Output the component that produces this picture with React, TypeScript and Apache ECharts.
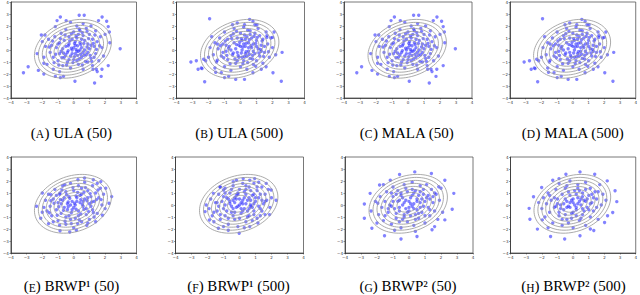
import { useEffect, useRef } from 'react';
import * as echarts from 'echarts';

// ---------- data ----------
const axisTicks = [-4, -3, -2, -1, 0, 1, 2, 3, 4];

// target density contours (Gaussian): mean, correlation, Mahalanobis radii of the drawn levels
const contourMean = [-0.05, 0.1];
const contourRho = 0.23;
const contourRadii = [2.45, 2.2, 1.95, 1.7, 1.45, 1.2, 0.95, 0.7];

const ulaSamples50: number[][] = [
  [-3.2, -1.9], [-2.9, -1.4], [-2.25, -1.7], [-2.33, -0.3], [-2.06, 1.25], [-1.83, 1.25], [-1.9, -1.1], [-1.9, -2.0],
  [-1.17, 1.95], [-1.06, 2.45], [-0.85, 2.75], [-0.48, 2.45], [0.35, 2.9], [0.67, 2.9], [1.58, 2.45], [1.81, 2.75],
  [2.1, 2.4], [2.2, 1.95], [2.27, 1.5], [2.96, 0.1], [2.2, -1.3], [1.8, -1.6], [1.75, -2.2], [1.33, -2.75],
  [0.08, -2.6], [-1.17, -2.2], [-0.85, -2.3], [-0.65, -2.2], [1.23, -1.6], [1.44, -1.6],
  [-1.6, 0.9], [-1.4, 0.4], [-1.5, -0.2], [-1.3, -0.6], [-1.2, 1.1], [-1.1, 0.2], [-1.0, -0.9], [-0.9, 0.6],
  [-0.9, -0.3], [-0.8, 1.4], [-0.7, 0.1], [-0.7, -1.3], [-0.6, 0.8], [-0.6, -0.6], [-0.5, 1.7], [-0.5, 0.3],
  [-0.4, -0.2], [-0.4, -1.0], [-0.3, 1.1], [-0.3, 0.5], [-0.2, -0.5], [-0.2, -1.5], [-0.1, 0.9], [-0.1, 0.0],
  [0.0, 1.5], [0.0, -0.8], [0.1, 0.4], [0.1, -0.3], [0.2, 2.0], [0.2, 1.0], [0.3, -0.1], [0.3, -1.2],
  [0.4, 0.6], [0.4, 1.6], [0.5, -0.6], [0.5, 0.2], [0.6, 1.2], [0.6, -1.6], [0.7, 0.0], [0.7, 0.8],
  [0.8, -0.4], [0.8, 1.8], [0.9, 0.5], [0.9, -1.0], [1.0, 1.3], [1.0, 0.1], [1.1, -0.7], [1.2, 0.9],
  [1.2, -1.3], [1.3, 0.3], [1.4, 1.6], [1.4, -0.3], [1.5, 0.7], [1.6, -0.9], [1.7, 1.1], [1.8, 0.2],
  [1.9, -0.5], [-1.8, 0.3], [-1.9, -0.6], [-2.0, 0.7], [-1.7, -1.2], [-1.3, -1.6], [-0.9, -1.8], [-0.2, 2.3],
  [0.6, 2.2], [1.1, 2.0], [1.5, -1.8], [2.0, 1.3], [2.3, 0.6], [0.0, 0.2], [0.2, -0.1], [-0.1, -0.3],
  [0.4, 0.0], [0.1, 0.7], [-0.5, -0.4], [0.6, -0.2], [1.1, 0.4], [-1.0, 0.5], [0.3, 1.3], [0.9, -0.2],
  [-0.3, -0.8], [0.5, 0.9], [-0.8, -0.1], [1.3, -0.6], [0.2, -0.9],
  [-0.15, 0.15], [0.25, 0.35], [0.45, -0.35], [-0.35, 0.35], [0.05, -0.55], [0.65, 0.55], [-0.65, -0.25], [0.85, 0.25],
  [-0.25, 0.75], [0.15, 1.15], [1.05, -0.45], [-1.15, -0.35], [0.35, -0.75], [-0.55, 1.25], [1.25, 0.55], [0.75, -0.95],
  [-0.85, 0.95], [0.55, 1.45], [-0.45, -1.25], [1.45, 0.05], [-1.35, 0.75], [0.95, 0.95], [0.05, 0.55], [-0.05, -1.05],
  [0.25, -0.45], [-0.75, -0.65], [0.65, -0.45], [1.15, -0.95], [-0.15, 1.35], [0.45, 0.45], [-1.25, -1.05], [1.65, 0.35],
  [0.85, 1.55], [-0.35, -0.05], [0.15, 0.05], [0.55, -1.25], [-0.95, -1.25], [1.35, 1.25], [-1.55, 0.25], [0.35, 1.75],
];

const ulaSamples500: number[][] = [
  [-1.93, 2.6], [-3.1, -1.0], [-2.76, -0.9], [-2.65, -1.6], [-2.45, -1.5], [-2.4, -1.55], [-2.24, -2.65], [-2.3, -0.77],
  [-2.18, -0.9], [-1.45, 0.5], [-0.2, 2.25], [0.25, 2.1], [0.57, 2.55], [0.78, 2.4], [1.03, 2.1], [1.65, 1.2],
  [2.0, 1.05], [2.6, -0.2], [2.03, -1.9], [2.55, -2.6], [0.25, -2.45], [-0.3, -2.45], [-0.74, -2.2], [-1.0, -2.3],
  [0.78, -1.9], [1.3, -1.6], [-1.55, -1.85],
  [-1.7, -0.4], [-1.6, 0.6], [-1.5, -1.0], [-1.4, 0.1], [-1.3, 1.0], [-1.2, -0.5], [-1.1, 0.5], [-1.0, -1.4],
  [-1.0, 1.5], [-0.9, -0.1], [-0.8, 0.9], [-0.8, -0.8], [-0.7, 0.3], [-0.6, -1.7], [-0.6, 1.2], [-0.5, -0.4],
  [-0.4, 0.6], [-0.4, 1.8], [-0.3, -1.1], [-0.3, 0.1], [-0.2, 1.0], [-0.1, -0.6], [-0.1, 0.4], [0.0, 1.4],
  [0.0, -1.4], [0.1, 0.0], [0.1, 0.8], [0.2, -0.9], [0.2, 1.9], [0.3, 0.3], [0.3, -0.3], [0.4, 1.1],
  [0.4, -1.6], [0.5, 0.6], [0.5, -0.1], [0.6, 1.6], [0.6, -0.7], [0.7, 0.2], [0.7, 1.0], [0.8, -1.2],
  [0.8, 0.5], [0.9, 1.4], [0.9, -0.3], [1.0, 0.8], [1.0, -0.9], [1.1, 0.1], [1.1, 1.8], [1.2, -0.5],
  [1.2, 1.2], [1.3, 0.4], [1.4, -1.1], [1.4, 0.9], [1.5, -0.2], [1.6, 1.5], [1.7, 0.5], [1.8, -0.6],
  [1.9, 1.0], [2.0, 0.2], [-1.9, 0.2], [-2.0, -0.6], [-1.8, 1.1], [-1.6, -1.5], [-1.2, -1.9], [-0.5, 2.1],
  [0.9, 2.1], [1.6, -1.4], [2.1, 1.5], [2.2, -0.4], [0.0, 0.3], [0.2, 0.5], [-0.2, -0.2], [0.5, 0.2],
  [0.3, 0.9], [-0.6, 0.0], [0.8, -0.1], [1.3, -0.1], [-1.1, -0.2], [0.6, 1.3], [1.0, 0.3], [-0.2, -0.9],
  [0.4, -0.5], [-0.9, 0.4], [1.5, 0.3], [0.1, -0.6],
  [0.15, 0.25], [-0.25, 0.45], [0.35, -0.15], [0.55, 0.85], [-0.45, -0.25], [0.75, -0.45], [-0.15, -0.45], [0.95, 0.55],
  [0.25, 1.25], [-0.75, 0.15], [1.15, -0.25], [-0.55, 0.95], [0.45, -1.05], [1.35, 0.75], [-1.05, -0.65], [0.05, 0.95],
  [0.65, 0.35], [-0.35, -0.75], [0.85, 1.15], [-0.95, 0.75], [1.45, -0.55], [0.15, -1.15], [-0.65, -1.15], [0.55, -0.35],
  [1.05, 1.05], [-0.25, 1.55], [0.35, 0.55], [-1.25, 0.35], [0.75, -0.75], [0.05, -0.25], [-0.85, -0.45], [1.25, 0.05],
  [0.45, 1.65], [-0.05, 0.65], [1.65, 1.05], [-1.45, -0.85], [0.95, -1.35], [-0.45, 1.35], [0.25, -0.55], [1.75, -0.15],
];

const malaSamples50: number[][] = ulaSamples50.map((p) => [p[0], p[1]]);
const malaSamples500: number[][] = ulaSamples500.map((p) => [p[0], p[1]]);

const brwp1Samples50: number[][] = [
  [-2.37, -0.1], [-2.0, 1.0], [-2.1, -1.1], [-1.6, -1.55], [-0.87, -2.15], [-0.25, -2.25], [0.17, -2.1], [0.83, -1.7],
  [1.4, -1.4], [1.83, -0.85], [2.25, 0.15], [2.42, 0.7], [2.04, 1.4], [1.73, 1.95], [1.25, 2.1], [0.69, 2.25],
  [0.27, 2.1], [-0.56, 1.7], [-0.87, 1.0], [-1.44, 0.85],
  [-1.8, 0.4], [-1.7, -0.5], [-1.6, 0.9], [-1.5, -0.1], [-1.4, -0.9], [-1.3, 0.5], [-1.2, 1.3], [-1.1, -0.4],
  [-1.0, 0.2], [-1.0, -1.3], [-0.9, 0.9], [-0.8, -0.7], [-0.7, 0.4], [-0.7, 1.6], [-0.6, -0.2], [-0.5, -1.6],
  [-0.5, 1.1], [-0.4, 0.1], [-0.3, -0.9], [-0.3, 0.7], [-0.2, 1.8], [-0.1, -0.4], [-0.1, 0.3], [0.0, -1.9],
  [0.0, 1.2], [0.1, 0.0], [0.1, -1.1], [0.2, 0.6], [0.3, 1.6], [0.3, -0.5], [0.4, 0.2], [0.5, -1.4],
  [0.5, 0.9], [0.6, -0.1], [0.7, 1.9], [0.7, 0.5], [0.8, -0.8], [0.9, 1.2], [1.0, 0.1], [1.0, -1.2],
  [1.1, 0.7], [1.2, 1.6], [1.2, -0.4], [1.3, 0.3], [1.4, 1.0], [1.5, -0.7], [1.6, 0.6], [1.7, 1.4],
  [1.8, 0.0], [1.9, 0.9], [2.0, -0.3], [-2.0, -0.6], [-1.9, -0.2], [-1.3, -1.4], [-0.9, -1.7], [0.9, -1.5],
  [1.5, 1.8], [-0.2, 0.0], [0.2, 0.3], [0.0, -0.2], [-0.4, -0.4], [0.4, 0.8], [0.6, 0.3], [-0.6, 0.6],
  [0.8, -0.3], [-0.2, -1.2], [0.3, -0.9], [1.1, -0.1], [-1.1, 0.8], [0.5, 1.4], [-0.8, 0.1], [1.3, -1.0],
  [-0.5, -1.0], [0.9, 0.6],
  [0.05, 0.15], [-0.35, 0.25], [0.45, 0.45], [-0.15, -0.65], [0.65, -0.35], [-0.65, -0.45], [0.25, 1.05], [0.85, 0.35],
  [-0.45, 0.85], [1.05, 0.95], [-0.95, -0.15], [0.35, -1.25], [-0.25, 0.55], [1.25, -0.65], [-1.25, 0.15], [0.15, -0.35],
  [0.75, 1.45], [-0.75, 1.25], [1.45, 0.45], [-0.55, -1.35], [0.55, 0.05], [-1.05, -0.85], [0.95, -0.55], [-0.05, 1.45],
  [1.55, 1.25], [-1.55, -0.65], [0.45, -0.75], [-0.35, -0.15], [1.15, 0.25], [0.65, 1.05], [-0.85, 0.45], [0.15, 0.75],
  [-1.45, 0.35], [1.75, 0.45], [0.25, -1.55], [-0.15, -1.55],
];

const brwp1Samples500: number[][] = [
  [-2.15, -0.55], [-2.08, 0.0], [-1.88, -1.25], [-1.32, -1.93], [-0.7, -2.1], [-0.02, -2.35], [0.64, -1.8], [1.15, -1.5],
  [1.88, -0.8], [2.29, 0.4], [1.98, 1.25], [1.67, 1.8], [0.64, 2.07], [0.23, 2.2], [-0.39, 1.93], [-1.0, 1.25],
  [-1.63, 0.97], [-1.22, 1.5], [-0.19, 2.07], [0.95, 2.2],
  [-1.9, -0.3], [-1.8, 0.5], [-1.7, -0.9], [-1.5, 0.2], [-1.4, -0.5], [-1.3, 0.9], [-1.2, -1.2], [-1.1, 0.3],
  [-1.0, -0.3], [-0.9, 1.4], [-0.9, -0.9], [-0.8, 0.6], [-0.7, -1.6], [-0.6, 0.1], [-0.6, 1.0], [-0.5, -0.6],
  [-0.4, 1.6], [-0.4, 0.4], [-0.3, -1.2], [-0.2, 0.8], [-0.2, -0.2], [-0.1, -1.8], [0.0, 0.5], [0.0, 1.3],
  [0.1, -0.7], [0.2, 0.1], [0.2, 1.8], [0.3, -0.3], [0.4, 0.9], [0.4, -1.4], [0.5, 0.4], [0.6, 1.5],
  [0.6, -0.9], [0.7, -0.1], [0.8, 0.8], [0.9, 1.8], [0.9, -0.5], [1.0, 0.3], [1.1, -1.1], [1.1, 1.2],
  [1.2, 0.6], [1.3, -0.3], [1.4, 1.5], [1.5, 0.1], [1.6, -0.8], [1.6, 0.9], [1.7, 0.4], [1.8, 1.3],
  [1.9, -0.2], [2.0, 0.6], [-1.6, -1.4], [-1.0, -1.8], [0.3, -1.9], [1.2, 1.9], [-1.2, 1.5], [0.0, 0.0],
  [-0.3, 0.2], [0.3, 0.6], [0.1, -0.3], [-0.5, -0.1], [0.7, 0.4], [-0.7, 0.5], [0.5, -0.5], [0.9, 0.1],
  [-0.1, 1.0], [-0.9, 0.0], [1.3, 0.9], [0.4, 1.3], [-0.4, -0.9], [0.8, -1.3], [-1.3, -0.1], [1.4, -0.5],
  [0.1, 0.2], [-0.2, 0.5], [0.4, 0.1], [-0.4, -0.3], [0.6, 0.6], [0.2, -0.5], [-0.6, 0.3], [0.8, -0.2],
  [-0.1, 0.9], [1.0, 0.6], [-0.8, -0.5], [0.3, 1.1], [1.2, -0.1], [-1.0, 0.7], [0.5, -1.0], [-0.3, -0.6],
  [0.7, 1.2], [-0.5, 1.3], [1.4, 0.4], [-1.2, -0.8], [0.0, -1.1], [0.9, -0.8], [-0.7, -1.1], [1.1, 1.5],
  [-1.4, 0.2], [0.2, 0.4], [-0.1, -0.1], [0.6, -0.3], [1.6, 0.3], [-0.9, 1.0], [0.4, 1.6], [1.3, -0.9],
  [-1.6, -0.6], [0.7, 0.0], [-0.3, 0.6], [0.9, 0.9],
];

const brwp2Samples50: number[][] = [
  [0.36, 2.76], [-0.59, 2.54], [1.4, 2.62], [2.24, 2.07], [2.8, 0.97], [2.7, -0.36], [2.24, -1.24], [1.44, -2.07],
  [0.5, -2.62], [-0.5, -2.84], [-1.53, -2.57], [-2.32, -1.93], [-2.79, -1.1], [-2.79, 0.08], [-2.43, 0.97], [-1.84, 1.66],
  [-1.17, 2.07], [-1.95, 0.14], [-2.37, -0.5], [1.86, 1.52],
  [-1.9, -0.8], [-1.8, 0.7], [-1.7, -0.2], [-1.6, -1.3], [-1.5, 0.3], [-1.4, 1.1], [-1.3, -0.6], [-1.2, 0.0],
  [-1.1, -1.6], [-1.0, 0.7], [-1.0, 1.5], [-0.9, -0.3], [-0.8, -1.1], [-0.7, 0.3], [-0.7, 1.2], [-0.6, -0.5],
  [-0.5, -1.9], [-0.5, 0.8], [-0.4, 0.0], [-0.3, 1.7], [-0.3, -0.8], [-0.2, 0.4], [-0.1, -1.4], [-0.1, 1.1],
  [0.0, -0.2], [0.1, 0.6], [0.1, -0.9], [0.2, 1.9], [0.3, 0.1], [0.3, -1.7], [0.4, 1.2], [0.5, -0.4],
  [0.5, 0.5], [0.6, -1.1], [0.7, 1.6], [0.7, 0.2], [0.8, -0.6], [0.9, 0.9], [1.0, -1.5], [1.0, 0.3],
  [1.1, 1.7], [1.2, -0.2], [1.2, 0.8], [1.3, -0.9], [1.4, 1.3], [1.5, 0.2], [1.6, -0.5], [1.7, 0.9],
  [1.8, -1.2], [1.9, 0.4], [2.0, 1.4], [2.1, -0.6], [-2.1, 0.3], [-2.0, -1.5], [-1.6, 1.7], [-0.9, -2.1],
  [0.4, -2.2], [1.6, -1.8], [0.0, 0.3], [-0.2, -0.3], [0.2, -0.1], [0.6, 0.8], [-0.6, 0.4], [0.4, -0.8],
  [-0.4, -1.2], [0.9, -0.1], [-1.1, -0.1], [0.2, 1.3], [1.3, 0.5], [-0.8, 0.9],
  [0.1, 0.1], [-0.3, 0.2], [0.5, 0.3], [-0.1, -0.6], [0.7, -0.2], [-0.6, -0.2], [0.3, 1.0], [0.8, 0.5],
  [-0.5, 1.0], [1.1, 0.6], [-1.0, 0.3], [0.4, -1.2], [-0.3, -1.0], [1.3, -0.4], [-1.3, -0.3], [0.2, 0.8],
  [0.9, 1.3], [-0.8, -0.7], [1.5, 0.7], [-0.2, 1.4], [0.6, -0.7], [-1.1, 1.0], [1.0, -0.9], [-0.6, -1.4],
  [0.0, -0.5], [1.6, 1.0], [-1.5, -0.9], [0.7, 1.1], [-0.4, 0.6], [0.3, -0.3],
];

const brwp2Samples500: number[][] = [
  [0.44, 2.76], [-0.46, 2.57], [1.38, 2.57], [2.18, 2.01], [2.68, 1.19], [2.79, 0.28], [2.53, -0.63], [2.01, -1.46],
  [1.32, -2.12], [0.44, -2.57], [-0.54, -2.84], [-1.44, -2.62], [-2.28, -2.01], [-2.76, -1.19], [-2.81, -0.28], [-2.53, 0.69],
  [-2.01, 1.46], [-1.3, 2.07], [-1.97, -1.24],
  [-2.0, -0.3], [-1.9, 0.6], [-1.8, -1.0], [-1.7, 0.1], [-1.6, 1.0], [-1.5, -0.6], [-1.4, 0.4], [-1.3, -1.5],
  [-1.2, -0.2], [-1.1, 1.3], [-1.0, 0.5], [-0.9, -0.9], [-0.9, 1.8], [-0.8, 0.0], [-0.7, -1.7], [-0.7, 0.9],
  [-0.6, -0.4], [-0.5, 1.4], [-0.4, 0.3], [-0.4, -1.2], [-0.3, -0.1], [-0.2, 2.0], [-0.2, 0.8], [-0.1, -0.7],
  [0.0, 0.2], [0.0, -1.9], [0.1, 1.2], [0.2, -0.4], [0.3, 0.6], [0.3, 1.7], [0.4, -1.3], [0.5, 0.0],
  [0.6, 1.0], [0.6, -0.8], [0.7, 0.4], [0.8, 1.9], [0.8, -1.7], [0.9, -0.2], [1.0, 0.8], [1.1, 1.4],
  [1.1, -1.0], [1.2, 0.2], [1.3, -0.5], [1.4, 1.1], [1.5, 0.5], [1.6, -1.2], [1.7, 1.7], [1.8, 0.0],
  [1.9, 0.9], [2.1, 0.4], [2.2, -0.9], [-2.2, 0.2], [-1.6, -1.9], [-0.9, 2.2], [1.1, -2.0], [0.0, 0.5],
  [-0.2, -0.2], [0.3, 0.1], [0.5, 0.5], [-0.5, 0.5], [0.2, -0.9], [-0.8, -0.3], [0.8, 0.3], [0.4, 1.2],
  [-1.0, 0.1], [1.2, 0.9], [-0.3, -1.5],
  [0.1, 0.0], [-0.1, 0.4], [0.4, 0.3], [-0.4, -0.2], [0.6, -0.3], [-0.6, 0.1], [0.2, 0.9], [0.9, 0.5],
  [-0.3, 1.1], [1.0, -0.4], [-0.9, -0.6], [0.5, -1.1], [-0.1, -1.1], [1.3, 0.6], [-1.2, 0.6], [0.2, -0.2],
  [0.8, 1.3], [-0.7, -1.2], [1.5, -0.2], [-0.4, 1.6], [0.7, -0.5], [-1.1, -0.1], [1.1, 0.1], [-0.5, -0.8],
  [0.3, 1.4], [1.6, 1.1], [-1.5, 0.8], [0.6, 0.7], [-0.2, 0.2], [0.0, -0.6],
];

const panelLetters = ['A', 'B', 'C', 'D', 'E', 'F', 'G', 'H'];
const panelMethods = ['ULA', 'ULA', 'MALA', 'MALA', 'BRWP¹', 'BRWP¹', 'BRWP²', 'BRWP²'];
const panelIterations = ['50', '500', '50', '500', '50', '500', '50', '500'];
const panelSamples = [ulaSamples50, ulaSamples500, malaSamples50, malaSamples500, brwp1Samples50, brwp1Samples500, brwp2Samples50, brwp2Samples500];

// ---------- layout ----------
const gridLefts = [8.5, 176.5, 344, 510, 8.5, 175.5, 345, 510.5];
const rowTops = [2, 157];
const gridW = 128;
const gridH = 96;
const captionMid = [131, 284.5];

function ellipse(r: number): number[][] {
  const pts: number[][] = [];
  const s = Math.sqrt(1 - contourRho * contourRho);
  for (let k = 0; k <= 90; k++) {
    const t = (k / 90) * Math.PI * 2;
    const u = Math.cos(t);
    const v = Math.sin(t);
    pts.push([contourMean[0] + r * u, contourMean[1] + r * (contourRho * u + s * v)]);
  }
  return pts;
}

const fmt = (v: number) => (v < 0 ? '\u2212' + String(-v) : String(v));

export default function App() {
  const ref = useRef<HTMLDivElement>(null);
  useEffect(() => {
    if (!ref.current) return;
    const chart = echarts.init(ref.current, undefined, { renderer: 'svg' });
    const grids: any[] = [];
    const xAxes: any[] = [];
    const yAxes: any[] = [];
    const series: any[] = [];
    const titles: any[] = [];
    const axisCommon = (i: number) => ({
      gridIndex: i,
      type: 'value',
      min: axisTicks[0],
      max: axisTicks[axisTicks.length - 1],
      interval: 1,
      axisLine: { show: true, onZero: false, lineStyle: { color: '#333', width: 0.8 } },
      axisTick: { show: true, length: 1.5, lineStyle: { color: '#333', width: 0.5 } },
      axisLabel: { fontSize: 4, margin: 2, color: '#333', fontFamily: 'DejaVu Sans', formatter: fmt },
      splitLine: { show: false },
    });
    for (let i = 0; i < 8; i++) {
      const row = i < 4 ? 0 : 1;
      grids.push({
        left: gridLefts[i],
        top: rowTops[row],
        width: gridW,
        height: gridH,
        show: true,
        borderColor: '#555',
        borderWidth: 0.8,
        backgroundColor: '#fff',
      });
      xAxes.push(axisCommon(i));
      yAxes.push(axisCommon(i));
      contourRadii.forEach((r) => {
        series.push({
          type: 'line',
          xAxisIndex: i,
          yAxisIndex: i,
          data: ellipse(r),
          showSymbol: false,
          symbol: 'none',
          smooth: false,
          silent: true,
          lineStyle: { color: '#969696', width: 0.8 },
        });
      });
      series.push({
        type: 'scatter',
        xAxisIndex: i,
        yAxisIndex: i,
        data: panelSamples[i],
        symbol: 'circle',
        symbolSize: 3.4,
        itemStyle: { color: 'rgba(55,55,255,0.78)' },
        silent: true,
      });
      titles.push({
        text: `{p|(}{s|${panelLetters[i]}}{p|) ${panelMethods[i]} (${panelIterations[i]})}`,
        left: gridLefts[i] + gridW / 2 - 1,
        top: captionMid[row] - 9,
        textAlign: 'center',
        padding: 0,
        textStyle: {
          fontFamily: 'Liberation Serif',
          fontSize: 15,
          fontWeight: 'normal',
          color: '#000',
          rich: {
            p: { fontFamily: 'Liberation Serif', fontSize: 15, color: '#000', verticalAlign: 'bottom', lineHeight: 18 },
            s: { fontFamily: 'Liberation Serif', fontSize: 11.5, color: '#000', verticalAlign: 'bottom', lineHeight: 18 },
          },
        },
      });
    }
    chart.setOption({
      animation: false,
      backgroundColor: '#fff',
      title: titles,
      grid: grids,
      xAxis: xAxes,
      yAxis: yAxes,
      series,
    });
    return () => chart.dispose();
  }, []);
  return (
    <div
      ref={ref}
      style={{ position: 'absolute', left: 0, top: 0, width: 640, height: 295 }}
    />
  );
}
